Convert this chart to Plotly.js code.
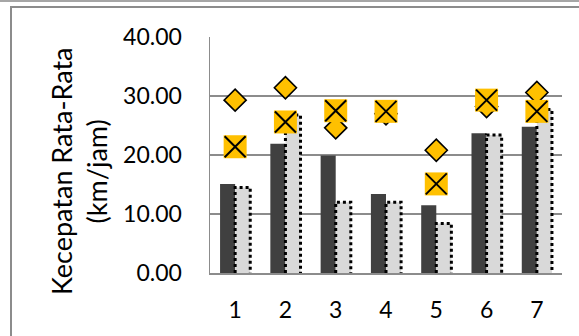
<!DOCTYPE html>
<html><head><meta charset="utf-8">
<script src="https://cdn.plot.ly/plotly-3.0.1.min.js"></script>
<style>
html,body{margin:0;padding:0;background:#fff;width:579px;height:336px;overflow:hidden;position:relative}
#topline{position:absolute;left:0;top:0;width:579px;height:2px;background:#a6a6a6}
#frame{position:absolute;left:10px;top:6px;width:600px;height:400px;border-left:2px solid #8c8c8c;border-top:2px solid #8c8c8c}
#chart{position:absolute;left:0;top:0;width:579px;height:336px}
</style></head><body>
<div id="topline"></div><div id="frame"></div><div id="chart"></div>
<script>
const categories = ['1','2','3','4','5','6','7'];
const seriesDark = [15.1, 21.9, 19.9, 13.4, 11.5, 23.7, 24.8];
const seriesLight = [14.5, 26.8, 12.0, 12.0, 8.4, 23.4, 27.7];
const seriesDiamond = [29.3, 31.4, 24.6, 27.0, 20.8, 28.2, 30.6];
const seriesCross = [21.4, 25.6, 27.5, 27.4, 15.1, 29.3, 27.4];
const yTitle = 'Kecepatan Rata-Rata<br>(km/jam)';

const xs = categories.map((c, i) => i + 1);
const barW = 0.3;

// dotted outline for the light bars, built from the data
const ox = [], oy = [];
xs.forEach((x, i) => {
  ox.push(x, x, x + barW, x + barW, null);
  oy.push(0, seriesLight[i], seriesLight[i], 0, null);
});

const FONT = 'Lato, "Open Sans", sans-serif';
const yellow = '#ffc000';

const traces = [
  {type: 'bar', x: xs, y: seriesDark, width: barW, offset: -barW,
   marker: {color: '#404040', line: {width: 0}}},
  {type: 'bar', x: xs, y: seriesLight, width: barW, offset: 0,
   marker: {color: '#d9d9d9', line: {width: 0}}},
  {type: 'scatter', mode: 'lines', x: ox, y: oy, connectgaps: false,
   line: {color: '#000', width: 3, dash: '3px,3px'}, cliponaxis: false},
  {type: 'scatter', mode: 'markers', x: xs, y: seriesDiamond,
   marker: {symbol: 'diamond', size: 17, color: yellow, line: {color: '#000', width: 1.6}}},
  {type: 'scatter', mode: 'markers', x: xs, y: seriesCross,
   marker: {symbol: 'square', size: 23, color: yellow, line: {width: 0}}},
  {type: 'scatter', mode: 'markers', x: xs, y: seriesCross,
   marker: {symbol: 'x-thin-open', size: 21, color: '#000', line: {color: '#000', width: 2}}}
];

const layout = {
  width: 579, height: 336,
  margin: {l: 210, r: 17, t: 37, b: 63, pad: 0},
  paper_bgcolor: 'rgba(0,0,0,0)', plot_bgcolor: 'rgba(0,0,0,0)',
  showlegend: false, hovermode: false,
  font: {family: FONT, color: '#000'},
  xaxis: {
    type: 'linear', range: [0.5, 7.5], tickvals: xs, ticktext: categories,
    showgrid: false, zeroline: false, showline: true, linecolor: '#8c8c8c', linewidth: 1.5,
    ticks: '', ticklabelstandoff: 16, tickfont: {family: FONT, size: 23, color: '#000'}
  },
  yaxis: {
    range: [0, 40], dtick: 10, tick0: 0, tickformat: '.2f',
    showgrid: true, gridcolor: '#8c8c8c', gridwidth: 1.5,
    zeroline: false, showline: true, linecolor: '#8c8c8c', linewidth: 1.5,
    ticks: '', ticklabelstandoff: 22, tickfont: {family: FONT, size: 23, color: '#000'}
  },
  annotations: [{
    text: yTitle, textangle: -90, showarrow: false,
    xref: 'paper', yref: 'paper', x: -0.372, y: 0.432, xanchor: 'center', yanchor: 'middle',
    font: {family: FONT, size: 27, color: '#000'}
  }]
};

Plotly.newPlot('chart', traces, layout, {staticPlot: true, displayModeBar: false});
</script>
</body></html>
